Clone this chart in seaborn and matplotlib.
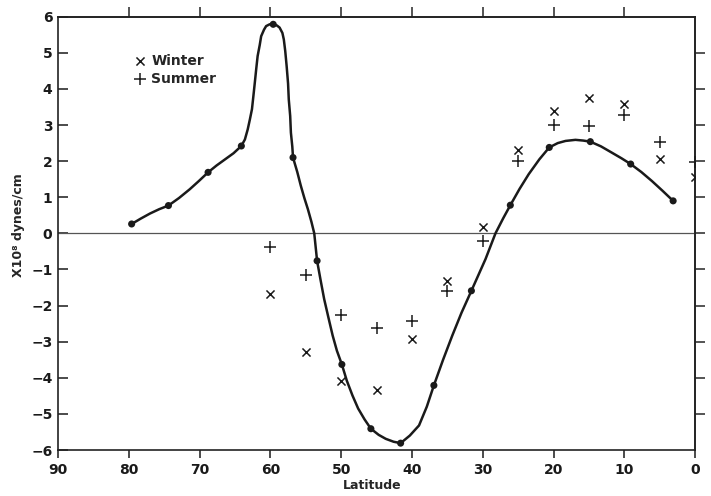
import pandas as pd
import matplotlib
matplotlib.use('Agg')
import matplotlib.pyplot as plt
import seaborn as sns

# smooth curve (latitude, value)
curve_lat = [79.6, 78.3, 77.0, 75.7, 74.4, 72.9, 71.4, 70.1, 68.8, 67.6, 66.4, 65.2,
             64.1, 63.6, 63.2, 62.9, 62.6, 62.4, 62.2, 62.0, 61.8, 61.5, 61.3, 60.9,
             60.6, 60.1, 59.6, 59.1, 58.7, 58.3, 58.1, 57.9, 57.7, 57.5, 57.4, 57.2,
             57.1, 56.9, 56.8, 56.2, 55.7, 55.2, 54.7, 54.2, 53.8, 53.4, 52.9, 52.4,
             51.8, 51.2, 50.6, 49.9, 49.2, 48.4, 47.6, 46.7, 45.8, 44.7, 43.7, 42.6,
             41.6, 40.3, 39.0, 37.9, 36.9, 35.6, 34.3, 33.0, 31.6, 30.6, 29.6, 28.2,
             27.1, 26.1, 24.8, 23.5, 22.0, 20.6, 19.4, 18.3, 16.9, 15.8, 14.8, 13.3,
             11.8, 10.4, 9.1, 7.6, 6.1, 4.6, 3.1]
curve_val = [0.26, 0.41, 0.55, 0.67, 0.77, 0.98, 1.22, 1.45, 1.69, 1.88, 2.05, 2.22,
             2.42, 2.60, 2.88, 3.15, 3.44, 3.80, 4.17, 4.55, 4.91, 5.22, 5.46, 5.64,
             5.74, 5.79, 5.79, 5.76, 5.70, 5.55, 5.37, 5.05, 4.63, 4.15, 3.71, 3.25,
             2.79, 2.40, 2.10, 1.70, 1.32, 0.98, 0.67, 0.32, 0.0, -0.76, -1.30, -1.82,
             -2.33, -2.83, -3.25, -3.63, -4.08, -4.49, -4.85, -5.15, -5.41, -5.58, -5.69, -5.77,
             -5.81, -5.60, -5.32, -4.80, -4.21, -3.50, -2.83, -2.20, -1.59, -1.15, -0.71, 0.0,
             0.42, 0.78, 1.23, 1.64, 2.05, 2.38, 2.50, 2.56, 2.59, 2.57, 2.54, 2.41,
             2.24, 2.08, 1.92, 1.70, 1.45, 1.18, 0.90]

# the dots sitting on the curve
dot_lat = [79.6, 74.4, 68.8, 64.1, 59.6, 56.8, 53.4, 49.9, 45.8, 41.6, 36.9, 31.6,
           26.1, 20.6, 14.8, 9.1, 3.1]
dot_val = [0.26, 0.77, 1.69, 2.42, 5.79, 2.10, -0.76, -3.63, -5.41, -5.81, -4.21, -1.59,
           0.78, 2.38, 2.54, 1.92, 0.90]

# seasonal values
season_lat = [60, 55, 50, 45, 40, 35, 30, 25, 20, 15, 10, 5, 0]
winter_val = [-1.67, -3.28, -4.08, -4.33, -2.93, -1.32, 0.18, 2.31, 3.39, 3.76, 3.57, 2.07, 1.56]
summer_val = [-0.37, -1.15, -2.27, -2.63, -2.44, -1.60, -0.22, 2.00, 3.00, 2.96, 3.27, 2.53, 1.98]

x_ticks = list(range(90, -1, -10))
y_ticks = list(range(-6, 7))

sns.set_theme(style='ticks')
plt.rcParams['font.family'] = ['DejaVu Sans']
plt.rcParams['font.weight'] = 'bold'
plt.rcParams['axes.labelweight'] = 'bold'
plt.rcParams['axes.linewidth'] = 1.2
plt.rcParams['axes.edgecolor'] = '#222222'

df = pd.DataFrame({
    'lat': season_lat * 2,
    'val': winter_val + summer_val,
    'season': ['Winter'] * len(season_lat) + ['Summer'] * len(season_lat),
})

fig = plt.figure(figsize=(7.11, 4.96), dpi=100)
ax = fig.add_axes([0.0816, 0.0927, 0.896, 0.8736])

ax.axhline(0, color='#555555', lw=0.9, zorder=1)
sns.lineplot(x=curve_lat, y=curve_val, sort=False, estimator=None,
             color='#1a1a1a', lw=1.8, ax=ax, zorder=2)
sns.scatterplot(x=dot_lat, y=dot_val, color='#1a1a1a', s=26, edgecolor='none',
                ax=ax, zorder=3)

sns.scatterplot(data=df[df.season == 'Winter'], x='lat', y='val', marker='x', s=34,
                color='#1a1a1a', linewidth=1.1, ax=ax, label='Winter', zorder=4)
sns.scatterplot(data=df[df.season == 'Summer'], x='lat', y='val', marker='+', s=75,
                color='#1a1a1a', linewidth=1.1, ax=ax, label='Summer', zorder=4)

ax.set_xlim(90, 0)
ax.set_ylim(-6, 6)
ax.set_xticks(x_ticks)
ax.set_yticks(y_ticks)
ax.tick_params(axis='x', direction='out', length=6, width=1.1, pad=3, labelsize=10,
               colors='#1a1a1a')
ax.tick_params(axis='y', direction='in', length=7, width=1.1, pad=4, labelsize=10,
               colors='#1a1a1a')

top = ax.secondary_xaxis('top')
top.set_xticks(list(range(80, 9, -10)))
top.set_xticklabels([])
top.tick_params(direction='out', length=7, width=1.1)
right = ax.secondary_yaxis('right')
right.set_yticks(list(range(-5, 6)))
right.set_yticklabels([])
right.tick_params(direction='out', length=7, width=1.1)

ax.set_xlabel('Latitude', fontsize=9, fontweight='bold')
ax.set_ylabel('X10⁸ dynes/cm', fontsize=9, fontweight='bold')
ax.xaxis.set_label_coords(0.493, -0.068)
ax.yaxis.set_label_coords(-0.052, 0.52)

ax.legend(loc='upper left', bbox_to_anchor=(0.12, 0.915), frameon=False,
          prop={'weight': 'bold', 'size': 10}, handlelength=0.8, handletextpad=0.4,
          labelspacing=0.3, borderpad=0, borderaxespad=0)

fig.savefig('out.png', dpi=100)
